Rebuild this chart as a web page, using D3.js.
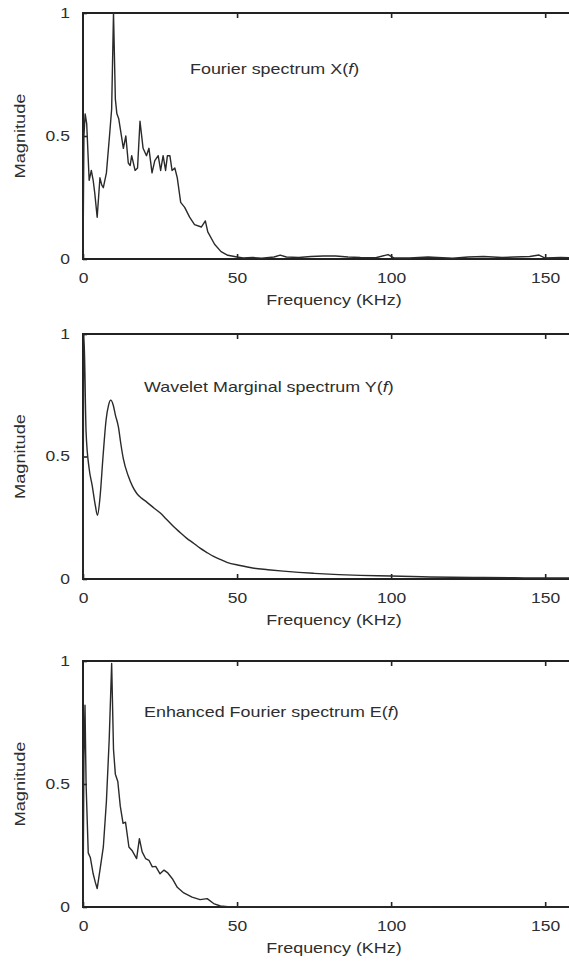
<!DOCTYPE html>
<html>
<head>
<meta charset="utf-8">
<script src="https://cdn.jsdelivr.net/npm/d3@7"></script>
<style>
    body { margin: 0; background: #fff; }
    svg { display: block; font-family: 'Liberation Sans', Arial, sans-serif; }
</style>
</head>
<body>
<script>
const xTicks = [0, 50, 100, 150];
const yTicks = [0, 0.5, 1];
const yTickLabels = ['0', '0.5', '1'];

// Fourier spectrum X(f)
const fourierFreq = [0, 0.3, 0.7, 1.2, 2.0, 2.7, 3.3, 3.8, 4.6, 5.5, 6.1, 6.6, 7.6, 8.6, 9.3, 9.9,
    10.5, 11.0, 11.6, 12.1, 13.1, 13.9, 14.7, 15.3, 15.8, 16.9, 17.7, 18.5, 19.5, 20.6, 21.4,
    22.4, 23.3, 24.4, 25.2, 26.0, 26.8, 27.4, 28.2, 28.9, 29.8, 30.6, 31.7, 33.0, 34.6, 36.2,
    38.4, 39.7, 40.5, 42.7, 44.8, 47, 50, 52, 55, 58, 62, 64, 66, 70, 74, 78, 82, 86, 90, 95,
    99, 101, 106, 112, 115, 120, 125, 130, 136, 140, 145, 148, 150, 155, 160];
const fourierMag = [0, 0.5, 0.59, 0.55, 0.32, 0.36, 0.32, 0.27, 0.17, 0.33, 0.3, 0.29, 0.35, 0.5, 0.61, 1.0,
    0.65, 0.59, 0.57, 0.53, 0.45, 0.5, 0.39, 0.38, 0.42, 0.36, 0.37, 0.56, 0.45, 0.42, 0.45,
    0.35, 0.4, 0.42, 0.36, 0.42, 0.36, 0.42, 0.42, 0.36, 0.37, 0.33, 0.23, 0.21, 0.17, 0.14,
    0.13, 0.155, 0.11, 0.06, 0.03, 0.015, 0.008, 0.004, 0.006, 0.003, 0.008, 0.016, 0.008, 0.006, 0.01, 0.012, 0.012, 0.008, 0.006, 0.005,
    0.018, 0.004, 0.004, 0.008, 0.006, 0.003, 0.008, 0.01, 0.006, 0.008, 0.01, 0.016, 0.004, 0.006, 0.005];

// Wavelet marginal spectrum Y(f)
const waveletFreq = [0, 0.3, 1, 2, 3, 4, 4.7, 5.5, 6.5, 7.5, 8.3, 9, 9.8, 10.5, 11.5, 12.3, 13.1,
    14.7, 16, 17.4, 19, 20.6, 23, 25, 27, 29.3, 31.5, 33.6, 36, 38, 40, 42.4, 44.5, 46.7, 51,
    55, 60, 65, 70, 75, 83, 90, 100, 110, 120, 130, 140, 150, 160];
const waveletMag = [0, 1.0, 0.6, 0.45, 0.38, 0.3, 0.26, 0.33, 0.5, 0.65, 0.71, 0.73, 0.71, 0.67, 0.62, 0.55, 0.49,
    0.42, 0.38, 0.35, 0.33, 0.315, 0.29, 0.27, 0.245, 0.215, 0.19, 0.167, 0.145, 0.126, 0.11, 0.092, 0.08, 0.068, 0.055,
    0.045, 0.038, 0.032, 0.027, 0.023, 0.018, 0.015, 0.012, 0.009, 0.007, 0.006, 0.005, 0.004, 0.004];

// Enhanced Fourier spectrum E(f)
const enhancedFreq = [0, 0.3, 0.65, 1.0, 1.7, 2.4, 3.3, 4.0, 4.6, 5.5, 6.6, 7.6, 8.5, 9.3, 9.9,
    10.5, 11.3, 12.1, 13, 13.8, 14.9, 15.9, 17.4, 18.3, 19.2, 20.3, 21.4, 22.5, 23.6, 25,
    26.3, 27.4, 29, 30.6, 32.7, 35.4, 38, 40.3, 42.4, 44.6, 47, 160];
const enhancedMag = [0, 0.6, 0.82, 0.5, 0.22, 0.2, 0.135, 0.1, 0.075, 0.15, 0.244, 0.43, 0.68, 0.99, 0.64,
    0.54, 0.51, 0.41, 0.34, 0.345, 0.244, 0.23, 0.197, 0.278, 0.224, 0.197, 0.19, 0.163, 0.165, 0.135,
    0.15, 0.14, 0.115, 0.08, 0.057, 0.04, 0.03, 0.034, 0.014, 0.004, 0.001, 0];

const panels = [
    { label: 'Fourier spectrum ', sym: 'X', freq: fourierFreq, mag: fourierMag, top: 13, bottom: 259, titleX: 190, titleY: 74, smooth: false },
    { label: 'Wavelet Marginal spectrum ', sym: 'Y', freq: waveletFreq, mag: waveletMag, top: 334, bottom: 579, titleX: 144, titleY: 392, smooth: true },
    { label: 'Enhanced Fourier spectrum ', sym: 'E', freq: enhancedFreq, mag: enhancedMag, top: 661, bottom: 907, titleX: 144, titleY: 717, smooth: false },
];

const width = 569;
const height = 966;
const left = 83;
const right = 576;
const ink = '#222';
const textInk = '#2e2e2e';

const svg = d3.select('body').append('svg')
    .attr('width', width)
    .attr('height', height);

const x = d3.scaleLinear().domain([0, 160]).range([left, right]);

panels.forEach(function (p) {
    const y = d3.scaleLinear().domain([0, 1]).range([p.bottom, p.top]);
    const g = svg.append('g');

    // bottom axis with inward ticks
    const bottomAxis = g.append('g')
        .attr('transform', 'translate(0,' + p.bottom + ')')
        .call(d3.axisBottom(x).tickValues(xTicks).tickSizeInner(-5).tickSizeOuter(0).tickPadding(14));
    bottomAxis.select('.domain').remove();

    const topAxis = g.append('g')
        .attr('transform', 'translate(0,' + p.top + ')')
        .call(d3.axisTop(x).tickValues(xTicks.slice(1)).tickSizeInner(-5).tickSizeOuter(0).tickFormat(''));
    topAxis.select('.domain').remove();

    const leftAxis = g.append('g')
        .attr('transform', 'translate(' + left + ',0)')
        .call(d3.axisLeft(y).tickValues(yTicks).tickSizeInner(-4).tickSizeOuter(0).tickPadding(10.5)
            .tickFormat((d, i) => yTickLabels[i]));
    leftAxis.select('.domain').remove();

    g.selectAll('.tick line').attr('stroke', ink).attr('stroke-width', 1.6);
    g.selectAll('.tick text')
        .attr('fill', textInk)
        .attr('font-size', 14)
        .attr('font-family', "'Liberation Sans', Arial, sans-serif")
        .attr('transform', 'scale(1.25,1)');

    // frame
    g.append('rect')
        .attr('x', left)
        .attr('y', p.top)
        .attr('width', right - left)
        .attr('height', p.bottom - p.top)
        .attr('fill', 'none')
        .attr('stroke', ink)
        .attr('stroke-width', 2);

    const line = d3.line()
        .x((d) => x(d[0]))
        .y((d) => y(d[1]))
        .curve(p.smooth ? d3.curveMonotoneX : d3.curveLinear);

    g.append('path')
        .datum(d3.zip(p.freq, p.mag))
        .attr('d', line)
        .attr('fill', 'none')
        .attr('stroke', '#2a2a2a')
        .attr('stroke-width', 1.4)
        .attr('stroke-linejoin', 'round');

    const title = g.append('text')
        .attr('transform', 'translate(' + p.titleX + ',' + p.titleY + ') scale(1.28,1)')
        .attr('font-size', 14)
        .attr('fill', textInk);
    title.append('tspan').text(p.label + p.sym + '(');
    title.append('tspan').attr('font-style', 'italic').text('f');
    title.append('tspan').text(')');

    g.append('text')
        .attr('transform', 'translate(334,' + (p.bottom + 46) + ') scale(1.28,1)')
        .attr('text-anchor', 'middle')
        .attr('font-size', 14)
        .attr('fill', textInk)
        .text('Frequency (KHz)');

    g.append('text')
        .attr('transform', 'translate(25,' + ((p.top + p.bottom) / 2) + ') rotate(-90) scale(1.3,1)')
        .attr('text-anchor', 'middle')
        .attr('font-size', 14)
        .attr('fill', textInk)
        .text('Magnitude');
});
</script>
</body>
</html>
